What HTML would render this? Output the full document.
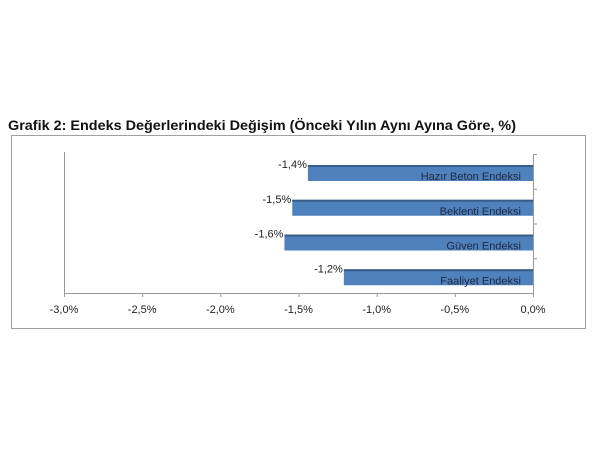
<!DOCTYPE html>
<html><head><meta charset="utf-8"><style>
body{margin:0;background:#fff;width:600px;height:451px;overflow:hidden;font-family:"Liberation Sans",sans-serif}
</style></head><body>
<svg width="600" height="451">
<text x="8" y="130" font-size="14" font-weight="bold" fill="#111" textLength="508" lengthAdjust="spacingAndGlyphs">Grafik 2: Endeks Değerlerindeki Değişim (Önceki Yılın Aynı Ayına Göre, %)</text>
<rect x="11.5" y="135.5" width="574" height="193" fill="none" stroke="#a0a0a0"/>
<g id="plot"></g>
</svg>
<script>
const categories=["Hazır Beton Endeksi","Beklenti Endeksi","Güven Endeksi","Faaliyet Endeksi"];
const values=[-1.44,-1.54,-1.59,-1.21];
const valueLabels=["-1,4%","-1,5%","-1,6%","-1,2%"];
const ticks=[-3,-2.5,-2,-1.5,-1,-0.5,0];
const tickLabels=["-3,0%","-2,5%","-2,0%","-1,5%","-1,0%","-0,5%","0,0%"];
const NS="http://www.w3.org/2000/svg";
const g=document.getElementById("plot");
const x0=64,x1=533,yTop=154,yBot=293;
const xs=v=>x0+(v+3)/3*(x1-x0);
const band=(yBot-yTop)/categories.length;
function mk(t,a,p){const e=document.createElementNS(NS,t);for(const k in a)e.setAttribute(k,a[k]);(p||g).appendChild(e);return e;}
let e=mk("line",{x1:x0+.5,x2:x0+.5,y1:yTop-2,y2:yBot,stroke:"#999"});


e=mk("line",{x1:x0,x2:x1+1,y1:yBot+.5,y2:yBot+.5,stroke:"#999"});


e=mk("line",{x1:x1+.5,x2:x1+.5,y1:yTop,y2:yBot,stroke:"#999"});


ticks.forEach((t,i)=>{
 const x=xs(t);
 let l=mk("line",{x1:x+.5,x2:x+.5,y1:yBot,y2:yBot+4,stroke:"#999"});
 
 
 let tx=mk("text",{x:x,y:313,"text-anchor":"middle","font-size":"11",fill:"#222"});
 tx.textContent=tickLabels[i];
 
 
});
categories.forEach((c,i)=>{
 const s=yTop+i*band;
 let t=mk("line",{x1:x1,x2:x1+4,y1:s+.5,y2:s+.5,stroke:"#999"});
 
 
 const bx=xs(values[i]),by=s+11,bh=16;
 let r=mk("rect",{x:bx,y:by,width:x1-bx,height:bh,fill:"#4f81bd"});
 
 
 let edge=mk("rect",{x:bx,y:by,width:x1-bx,height:2,fill:"#385d8a"});
 
 
 let cl=mk("text",{x:521,y:by+bh-1,"text-anchor":"end","font-size":"11",fill:"#1f2a44"});
 cl.textContent=c;
 
 
 let vl=mk("text",{x:bx-1,y:by+3,"text-anchor":"end","font-size":"11",fill:"#222"});
 vl.textContent=valueLabels[i];
 
 
});
</script>
</body></html>
